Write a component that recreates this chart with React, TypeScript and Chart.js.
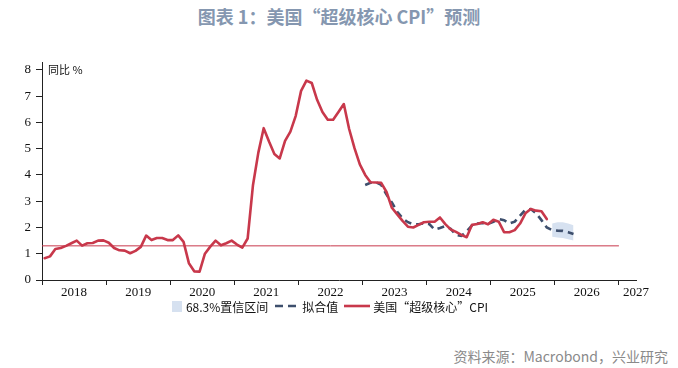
import React, { useEffect, useRef } from "react";
import { Chart, registerables } from "chart.js";

Chart.register(...registerables);

// ---------- data ----------
const START_YEAR = 2018;
const yearLabels = ["2018", "2019", "2020", "2021", "2022", "2023", "2024", "2025", "2026", "2027"];
const yTickValues = [0, 1, 2, 3, 4, 5, 6, 7, 8];

// US "super core" CPI YoY %, monthly from 2018-01
const coreCpi = [
  0.83, 0.9, 1.18, 1.22, 1.3, 1.4, 1.5, 1.31, 1.4, 1.41, 1.5, 1.51,
  1.42, 1.22, 1.13, 1.12, 1.02, 1.11, 1.26, 1.69, 1.52, 1.6, 1.6, 1.52,
  1.52, 1.7, 1.45, 0.64, 0.33, 0.32, 1.0, 1.27, 1.5, 1.32, 1.4, 1.5,
  1.35, 1.23, 1.58, 3.62, 4.85, 5.78, 5.27, 4.8, 4.63, 5.3, 5.65, 6.25,
  7.2, 7.59, 7.5, 6.86, 6.4, 6.1, 6.1, 6.4, 6.7, 5.75, 5.02, 4.4,
  4.0, 3.72, 3.71, 3.7, 3.35, 2.75, 2.5, 2.25, 2.03, 2.0, 2.1, 2.2,
  2.22, 2.22, 2.38, 2.13, 1.93, 1.83, 1.72, 1.63, 2.1, 2.13, 2.2, 2.12,
  2.29, 2.22, 1.82, 1.82, 1.9, 2.15, 2.54, 2.7, 2.64, 2.62, 2.32,
];

// fitted values, monthly from 2023-01
const fitStartMonth = 60;
const fitted = [
  3.62, 3.7, 3.72, 3.62, 3.25, 2.95, 2.6, 2.35, 2.2, 2.12, 2.12, 2.16,
  2.13, 1.92, 1.98, 2.05, 1.95, 1.72, 1.68, 1.85, 2.08, 2.15, 2.17, 2.14,
  2.22, 2.32, 2.28, 2.15, 2.22, 2.45, 2.67, 2.7, 2.54, 2.28, 2.0, 1.9,
  1.88, 1.87, 1.82, 1.75,
];

// 68.3% confidence band, monthly from 2025-12
const bandStartMonth = 95;
const bandUpper = [2.15, 2.2, 2.2, 2.15, 2.08];
const bandLower = [1.65, 1.62, 1.6, 1.55, 1.5];

// reference level
const refLevel = 1.3;
const refEndMonth = 108;

const X_MAX = 111.2;
const Y_MAX = 8.3;

// ---------- styles ----------
const RED = "#c8384b";
const NAVY = "#3e4f6d";
const BAND = "#d6e1f0";
const TITLE = "#8597b0";
const CJK = '"Noto Sans CJK SC", "Noto Sans", sans-serif';
const SERIF = '"Liberation Serif", "DejaVu Serif", serif';

const toPoints = (vals: number[], start: number) =>
  vals.map((v, i) => ({ x: start + i + 0.5, y: v }));

export default function App() {
  const ref = useRef<HTMLCanvasElement | null>(null);

  useEffect(() => {
    const canvas = ref.current;
    if (!canvas) return;

    const boundaryTicks = yearLabels.map((_, i) => i * 12);
    const labelTicks = yearLabels.slice(0, -1).map((_, i) => i * 12 + 6);

    const chart = new Chart(canvas, {
      type: "line",
      data: {
        datasets: [
          {
            label: "core",
            data: toPoints(coreCpi, 0),
            borderColor: RED,
            borderWidth: 2.6,
            pointRadius: 0,
            tension: 0,
            borderJoinStyle: "round",
            borderCapStyle: "round",
            fill: false,
          },
          {
            label: "fit",
            data: toPoints(fitted, fitStartMonth),
            borderColor: NAVY,
            borderWidth: 2.6,
            borderDash: [7, 5],
            pointRadius: 0,
            tension: 0,
            fill: false,
          },
          {
            label: "ref",
            data: [
              { x: 0, y: refLevel },
              { x: refEndMonth, y: refLevel },
            ],
            borderColor: RED,
            borderWidth: 1,
            pointRadius: 0,
            fill: false,
          },
          {
            label: "bandUpper",
            data: toPoints(bandUpper, bandStartMonth),
            borderWidth: 0,
            borderColor: "rgba(0,0,0,0)",
            backgroundColor: BAND,
            pointRadius: 0,
            fill: "+1",
          },
          {
            label: "bandLower",
            data: toPoints(bandLower, bandStartMonth),
            borderWidth: 0,
            borderColor: "rgba(0,0,0,0)",
            pointRadius: 0,
            fill: false,
          },
        ],
      },
      options: {
        responsive: false,
        animation: false,
        devicePixelRatio: 1,
        layout: { padding: { top: 62, right: 42, left: 0, bottom: 0 } },
        plugins: {
          legend: { display: false },
          tooltip: { enabled: false },
        },
        scales: {
          x: {
            type: "linear",
            min: 0,
            max: X_MAX,
            afterBuildTicks: (axis: any) => {
              const all = [...boundaryTicks, ...labelTicks, X_MAX].sort((a, b) => a - b);
              axis.ticks = all.map((v) => ({ value: v }));
            },
            afterFit: (scale: any) => {
              scale.height = 20;
            },
            grid: {
              drawOnChartArea: false,
              drawTicks: true,
              tickLength: 5,
              tickWidth: 1,
              tickColor: (ctx: any) =>
                ctx.tick && ctx.tick.value % 12 === 0 && ctx.tick.value <= 108 ? "#222" : "rgba(0,0,0,0)",
            },
            border: { display: true, color: "#222", width: 1 },
            ticks: {
              autoSkip: false,
              maxRotation: 0,
              padding: 0,
              color: "#111",
              font: { family: SERIF, size: 13 },
              callback: (value: any) => {
                const v = Number(value);
                if (v === X_MAX) return yearLabels[yearLabels.length - 1];
                if (v % 12 === 6) return yearLabels[(v - 6) / 12];
                return "";
              },
            },
          },
          y: {
            type: "linear",
            min: 0,
            max: Y_MAX,
            afterBuildTicks: (axis: any) => {
              axis.ticks = yTickValues.map((v) => ({ value: v }));
            },
            afterFit: (scale: any) => {
              scale.width = 42;
            },
            grid: {
              drawOnChartArea: false,
              drawTicks: true,
              tickLength: 6,
              tickColor: "#222",
            },
            border: { display: true, color: "#222", width: 1 },
            ticks: {
              padding: 5,
              color: "#111",
              font: { family: SERIF, size: 13 },
              callback: (value: any) => String(value),
            },
          },
        },
      },
    });

    return () => chart.destroy();
  }, []);

  const legendText: React.CSSProperties = {
    fontFamily: CJK,
    fontSize: 12,
    color: "#111",
    whiteSpace: "nowrap",
  };

  return (
    <div style={{ position: "relative", width: 678, height: 368, background: "#fff", overflow: "hidden" }}>
      <style>{"html,body{margin:0;padding:0;background:#fff}"}</style>
      <div
        style={{
          position: "absolute",
          top: 4,
          left: 0,
          width: 678,
          textAlign: "center",
          fontFamily: CJK,
          fontWeight: 700,
          fontSize: 18,
          color: TITLE,
          lineHeight: "24px",
          whiteSpace: "nowrap",
        }}
      >
        图表 1：美国“超级核心 CPI”预测
      </div>
      <canvas ref={ref} width={678} height={300} style={{ position: "absolute", left: 0, top: 0, display: "block" }} />
      <div
        style={{
          position: "absolute",
          left: 48,
          top: 62,
          fontFamily: CJK,
          fontSize: 11,
          color: "#111",
          whiteSpace: "nowrap",
          lineHeight: "14px",
        }}
      >
        同比 %
      </div>
      <div
        style={{
          position: "absolute",
          top: 298,
          left: 0,
          width: 660,
          display: "flex",
          justifyContent: "center",
          alignItems: "center",
          height: 16,
        }}
      >
        <span style={{ display: "inline-block", width: 10, height: 11, background: BAND, marginRight: 4 }} />
        <span style={legendText}>68.3%置信区间</span>
        <svg width={24} height={6} style={{ marginLeft: 7, marginRight: 3 }}>
          <line x1={0} y1={3} x2={24} y2={3} stroke={NAVY} strokeWidth={2.6} strokeDasharray="8 5" />
        </svg>
        <span style={legendText}>拟合值</span>
        <svg width={26} height={6} style={{ marginLeft: 6, marginRight: 3 }}>
          <line x1={0} y1={3} x2={26} y2={3} stroke={RED} strokeWidth={2.6} />
        </svg>
        <span style={legendText}>美国“超级核心”CPI</span>
      </div>
      <div
        style={{
          position: "absolute",
          right: 10,
          top: 346,
          fontFamily: CJK,
          fontSize: 14,
          color: "#8a8a8a",
          whiteSpace: "nowrap",
          lineHeight: "20px",
        }}
      >
        资料来源：Macrobond，兴业研究
      </div>
    </div>
  );
}
